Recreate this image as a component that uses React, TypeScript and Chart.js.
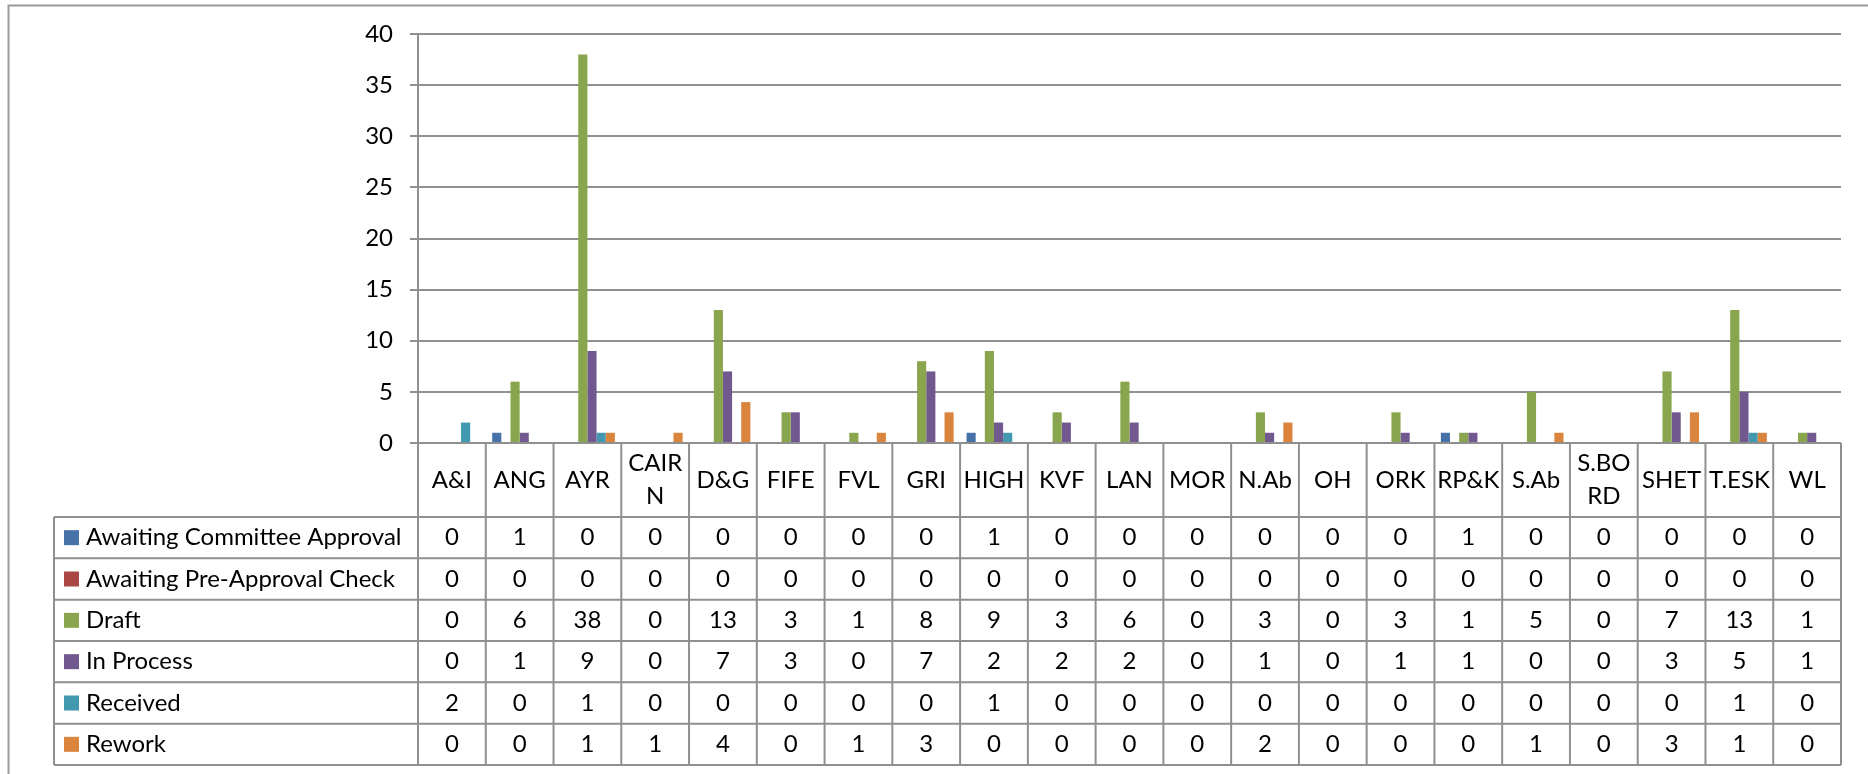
import React, { useEffect, useRef } from "react";
import { Chart, registerables } from "chart.js";

Chart.register(...registerables);

// ---- Data ----
const categories = ["A&I", "ANG", "AYR", "CAIRN", "D&G", "FIFE", "FVL", "GRI", "HIGH", "KVF", "LAN", "MOR", "N.Ab", "OH", "ORK", "RP&K", "S.Ab", "S.BORD", "SHET", "T.ESK", "WL"];
const categoryTickLabels: (string | string[])[] = ["A&I", "ANG", "AYR", ["CAIR", "N"], "D&G", "FIFE", "FVL", "GRI", "HIGH", "KVF", "LAN", "MOR", "N.Ab", "OH", "ORK", "RP&K", "S.Ab", ["S.BO", "RD"], "SHET", "T.ESK", "WL"];
const seriesNames = ["Awaiting Committee Approval", "Awaiting Pre-Approval Check", "Draft", "In Process", "Received", "Rework"];
const awaitingCommitteeApproval = [0, 1, 0, 0, 0, 0, 0, 0, 1, 0, 0, 0, 0, 0, 0, 1, 0, 0, 0, 0, 0];
const awaitingPreApprovalCheck = [0, 0, 0, 0, 0, 0, 0, 0, 0, 0, 0, 0, 0, 0, 0, 0, 0, 0, 0, 0, 0];
const draft = [0, 6, 38, 0, 13, 3, 1, 8, 9, 3, 6, 0, 3, 0, 3, 1, 5, 0, 7, 13, 1];
const inProcess = [0, 1, 9, 0, 7, 3, 0, 7, 2, 2, 2, 0, 1, 0, 1, 1, 0, 0, 3, 5, 1];
const received = [2, 0, 1, 0, 0, 0, 0, 0, 1, 0, 0, 0, 0, 0, 0, 0, 0, 0, 0, 1, 0];
const rework = [0, 0, 1, 1, 4, 0, 1, 3, 0, 0, 0, 0, 2, 0, 0, 0, 1, 0, 3, 1, 0];
const seriesColors = ["#4672A8", "#AA4643", "#89A54E", "#71588F", "#4198AF", "#DB843D"];
const yMin = 0;
const yMax = 40;
const yStep = 5;

const seriesValues = [awaitingCommitteeApproval, awaitingPreApprovalCheck, draft, inProcess, received, rework];

const FONT = "Lato, 'Open Sans', sans-serif";
const FONT_SIZE = 24;
const GRID = "#8f8f8f";

const tablePlugin = {
  id: "dataTable",
  beforeDraw(chart: any) {
    const ctx = chart.ctx;
    ctx.save();
    ctx.strokeStyle = "#9a9a9a";
    ctx.lineWidth = 2;
    ctx.beginPath();
    ctx.moveTo(8.5, 800);
    ctx.lineTo(8.5, 5.5);
    ctx.lineTo(1900, 5.5);
    ctx.stroke();
    ctx.restore();
  },
  afterDraw(chart: any) {
    const ctx = chart.ctx;
    const xs = chart.scales.x;
    const area = chart.chartArea;
    const n = categories.length;
    const colW = (area.right - area.left) / n;
    const headerTop = area.bottom;
    const headerBottom = 517;
    const tableBottom = 765;
    const rowH = (tableBottom - headerBottom) / seriesNames.length;
    const legendLeft = 54;

    ctx.save();
    ctx.strokeStyle = GRID;
    ctx.lineWidth = 2;
    ctx.beginPath();
    for (let i = 0; i <= n; i++) {
      const x = i === n ? area.right : xs.getPixelForValue(i) - colW / 2;
      ctx.moveTo(x, headerTop);
      ctx.lineTo(x, tableBottom);
    }
    ctx.moveTo(legendLeft, headerBottom);
    ctx.lineTo(legendLeft, tableBottom);
    for (let r = 0; r <= seriesNames.length; r++) {
      const y = headerBottom + r * rowH;
      ctx.moveTo(legendLeft, y);
      ctx.lineTo(area.right, y);
    }
    ctx.stroke();

    ctx.fillStyle = "#000";
    ctx.font = `${FONT_SIZE}px ${FONT}`;
    ctx.textAlign = "center";
    ctx.textBaseline = "middle";
    const headerMid = (headerTop + headerBottom) / 2;
    categoryTickLabels.forEach((lab, i) => {
      const cx = xs.getPixelForValue(i);
      const lines = Array.isArray(lab) ? lab : [lab];
      const lh = 33;
      lines.forEach((ln, k) => {
        ctx.fillText(ln, cx, headerMid + (k - (lines.length - 1) / 2) * lh);
      });
    });

    seriesNames.forEach((name, r) => {
      const cy = headerBottom + r * rowH + rowH / 2;
      ctx.fillStyle = seriesColors[r];
      ctx.fillRect(64, cy - 7.5, 15, 15);
      ctx.fillStyle = "#000";
      ctx.textAlign = "left";
      ctx.fillText(name, 86, cy);
      ctx.textAlign = "center";
      seriesValues[r].forEach((v, i) => {
        ctx.fillText(String(v), xs.getPixelForValue(i), cy);
      });
    });
    ctx.restore();
  },
};

export default function App() {
  const ref = useRef<HTMLCanvasElement | null>(null);
  useEffect(() => {
    if (!ref.current) return;
    const chart = new Chart(ref.current, {
      type: "bar",
      data: {
        labels: categories,
        datasets: seriesNames.map((name, i) => ({
          label: name,
          data: seriesValues[i],
          backgroundColor: seriesColors[i],
          borderWidth: 0,
        })),
      },
      options: {
        responsive: false,
        animation: false,
        devicePixelRatio: 1,
        layout: { padding: { left: 358, right: 27, top: 34, bottom: 331 } },
        plugins: { legend: { display: false }, tooltip: { enabled: false }, title: { display: false } },
        datasets: { bar: { categoryPercentage: 0.81, barPercentage: 1 } },
        scales: {
          x: { display: false },
          y: {
            min: yMin,
            max: yMax,
            afterFit: (s: any) => {
              s.width = 60;
            },
            ticks: { stepSize: yStep, color: "#000", font: { family: FONT, size: FONT_SIZE }, padding: 17 },
            grid: { color: GRID, lineWidth: 2, tickLength: 8, drawTicks: true },
            border: { display: true, color: GRID, width: 2 },
          },
        },
      },
      plugins: [tablePlugin],
    });
    return () => chart.destroy();
  }, []);
  return (
    <div style={{ position: "absolute", left: 0, top: 0, width: 1868, height: 774, background: "#fff" }}>
      <canvas ref={ref} width={1868} height={774} style={{ display: "block" }} />
    </div>
  );
}
